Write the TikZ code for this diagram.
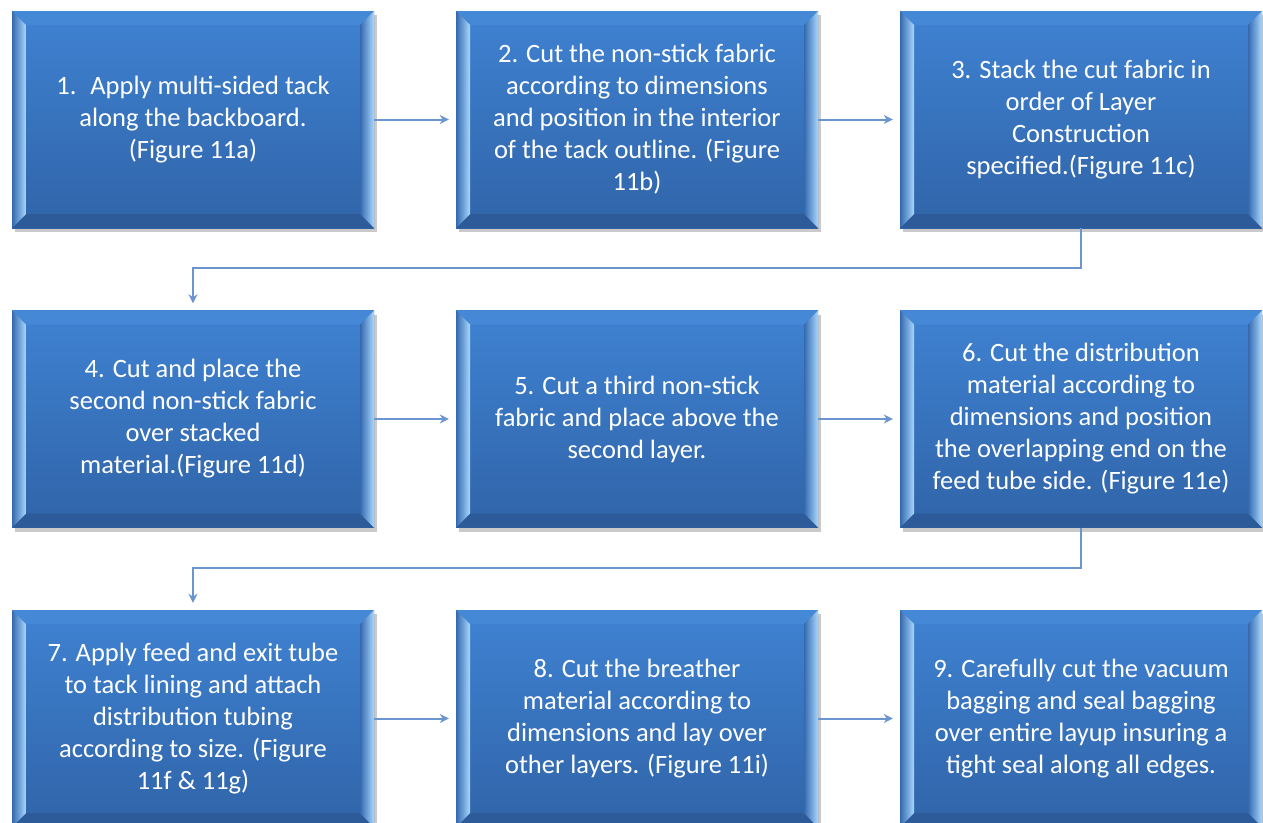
\documentclass[tikz,border=0pt]{standalone}
\usepackage{fontspec}
\setmainfont{Carlito}
\usetikzlibrary{arrows.meta,shadows,calc}
\definecolor{bodytop}{HTML}{3F82D2}
\definecolor{bodybot}{HTML}{3064A8}
\definecolor{bevdark}{HTML}{3569AE}
\definecolor{bevlight}{HTML}{A8D8FF}
\definecolor{bevbot}{HTML}{2D5A98}
\definecolor{bevtop}{HTML}{4488D6}
\definecolor{arrowblue}{HTML}{6A95CE}
\tikzset{
  stepbox/.style={
    rectangle, minimum width=362pt, minimum height=217pt, inner sep=0pt,
    top color=bodytop, bottom color=bodybot, draw=none,
    text=white, align=center, font=\fontsize{26.5}{32}\selectfont,
    drop shadow={shadow xshift=3pt, shadow yshift=-4pt, opacity=0.35, fill=black!60},
    path picture={
      \coordinate (NW) at (path picture bounding box.north west);
      \coordinate (NE) at (path picture bounding box.north east);
      \coordinate (SW) at (path picture bounding box.south west);
      \coordinate (SE) at (path picture bounding box.south east);
      \fill[bevtop] (NW) -- (NE) -- ($(NE)+(-14pt,-14pt)$) -- ($(NW)+(14pt,-14pt)$) -- cycle;
      \fill[bevbot] (SW) -- (SE) -- ($(SE)+(-14pt,14pt)$) -- ($(SW)+(14pt,14pt)$) -- cycle;
      \shade[left color=bevdark, right color=bevlight] (NW) -- (SW) -- ($(SW)+(14pt,14pt)$) -- ($(NW)+(14pt,-14pt)$) -- cycle;
      \shade[left color=bevdark, right color=bevlight] (NE) -- (SE) -- ($(SE)+(-14pt,14pt)$) -- ($(NE)+(-14pt,-14pt)$) -- cycle;
    }},
  conn/.style={draw=arrowblue, line width=2pt, -{Stealth[length=9pt,width=9pt]}, shorten >=7pt}
}
\begin{document}
\begin{tikzpicture}[x=1pt,y=-1pt]
\useasboundingbox (0,0) rectangle (1263,822);
\clip (0,0) rectangle (1263,822);
\node[stepbox] (s1) at (193,119.5) {1.~ Apply multi-sided tack\\along the backboard.\\(Figure 11a)};
\node[stepbox] (s2) at (637,119.5) {2. Cut the non-stick fabric\\according to dimensions\\and position in the interior\\of the tack outline. (Figure\\11b)};
\node[stepbox] (s3) at (1081,119.5) {3. Stack the cut fabric in\\order of Layer\\Construction\\specified.(Figure 11c)};
\node[stepbox] (s4) at (193,419) {4. Cut and place the\\second non-stick fabric\\over stacked\\material.(Figure 11d)};
\node[stepbox] (s5) at (637,419) {5. Cut a third non-stick\\fabric and place above the\\second layer.};
\node[stepbox] (s6) at (1081,419) {6. Cut the distribution\\material according to\\dimensions and position\\the overlapping end on the\\feed tube side. (Figure 11e)};
\node[stepbox] (s7) at (193,718.5) {7. Apply feed and exit tube\\to tack lining and attach\\distribution tubing\\according to size. (Figure\\11f \& 11g)};
\node[stepbox] (s8) at (637,718.5) {8. Cut the breather\\material according to\\dimensions and lay over\\other layers. (Figure 11i)};
\node[stepbox] (s9) at (1081,718.5) {9. Carefully cut the vacuum\\bagging and seal bagging\\over entire layup insuring a\\tight seal along all edges.};
\coordinate (b1) at (1081,268);
\coordinate (b2) at (193,268);
\coordinate (c1) at (1081,568);
\coordinate (c2) at (193,568);
\draw[conn] (s1) -- (s2);
\draw[conn] (s2) -- (s3);
\draw[conn] (s3.south) -- (b1) -- (b2) -- (s4.north);
\draw[conn] (s4) -- (s5);
\draw[conn] (s5) -- (s6);
\draw[conn] (s6.south) -- (c1) -- (c2) -- (s7.north);
\draw[conn] (s7) -- (s8);
\draw[conn] (s8) -- (s9);
\end{tikzpicture}
\end{document}
